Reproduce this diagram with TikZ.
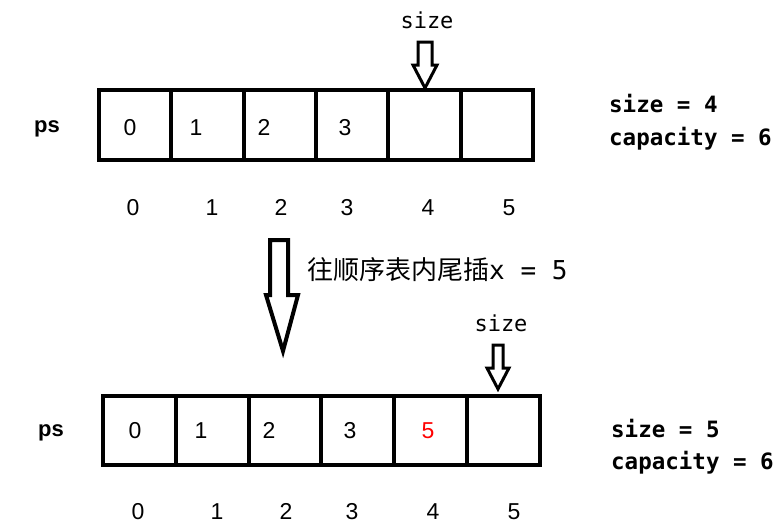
\documentclass[tikz,border=0pt]{standalone}
\usepackage{fontspec}
\setmainfont{Liberation Sans}
\setmonofont{DejaVu Sans Mono}
\newfontfamily\cjkfont{Noto Sans CJK SC}
\usetikzlibrary{positioning}

\begin{document}
\begin{tikzpicture}[x=1pt, y=-1pt,
  cell/.style={draw=black, line width=4pt, rectangle,
               minimum width=72pt, minimum height=70pt,
               inner sep=0pt, outer sep=0pt},
  num/.style={font=\fontsize{23}{23}\selectfont, inner sep=0pt,
              text height=16.5pt, text depth=0pt},
  idx/.style={num},
  arr/.style={font=\fontsize{22}{22}\selectfont\bfseries, inner sep=0pt},
  info/.style={font=\fontsize{22.5}{22.5}\selectfont\ttfamily\bfseries,
               anchor=west, inner sep=0pt},
  ptr/.style={font=\fontsize{22}{22}\selectfont\ttfamily, inner sep=0pt},
  blockarrow/.style={draw=black, line width=3pt, line join=miter, fill=white},
]
\useasboundingbox (0,0) rectangle (780,531);
\def\cwa{72.3}  % cell width, before
\def\cwb{72.8}  % cell width, after
% Before: array cells
\foreach \i in {0,...,5}
  \node[cell, minimum width=\cwa pt] (a\i) at (135.2+\i*\cwa, 125) {};
\node[arr] (psa) at (47, 129) {ps};
\foreach \i/\x in {0/130, 1/196, 2/264, 3/345}
  \node[num] (va\i) at (\x, 127) {\i};
\foreach \i/\x in {0/133, 1/212, 2/281, 3/347, 4/428, 5/509}
  \node[idx] (ia\i) at (\x, 207) {\i};
\node[ptr] (sza) at (427, 20) {size};
\draw[blockarrow] (418,42) -- (432,42) -- (432,65) -- (437,65) -- (425,88)
  -- (413,65) -- (418,65) -- cycle;
\node[info] (sizea) at (609, 104) {size = 4};
\node[info] (capa) at (609, 139) {capacity = 6};
% Push back
\draw[blockarrow, line width=4pt] (270,240) -- (288,240) -- (288,295) -- (298,295)
  -- (283,351) -- (266,295) -- (270,295) -- cycle;
\node[anchor=west, inner sep=0pt, font=\fontsize{26}{26}\selectfont] (op) at (307, 270)
  {{\cjkfont 往顺序表内尾插}\ttfamily x = 5};
% After: array cells
\foreach \i in {0,...,5}
  \node[cell, minimum width=\cwb pt, minimum height=69pt] (b\i) at (139.4+\i*\cwb, 430.5) {};
\node[arr] (psb) at (51, 433) {ps};
\foreach \i/\x in {0/135, 1/201, 2/269, 3/350}
  \node[num] (vb\i) at (\x, 430) {\i};
\node[num, text=red] (vb4) at (428, 430) {5};
\foreach \i/\x in {0/138, 1/217, 2/286, 3/352, 4/433, 5/514}
  \node[idx] (ib\i) at (\x, 511) {\i};
\node[ptr] (szb) at (501, 323) {size};
\draw[blockarrow] (493,345) -- (503,345) -- (503,368) -- (509,368) -- (498,389)
  -- (487,368) -- (493,368) -- cycle;
\node[info] (sizeb) at (611, 429) {size = 5};
\node[info] (capb) at (611, 463) {capacity = 6};
\end{tikzpicture}
\end{document}
